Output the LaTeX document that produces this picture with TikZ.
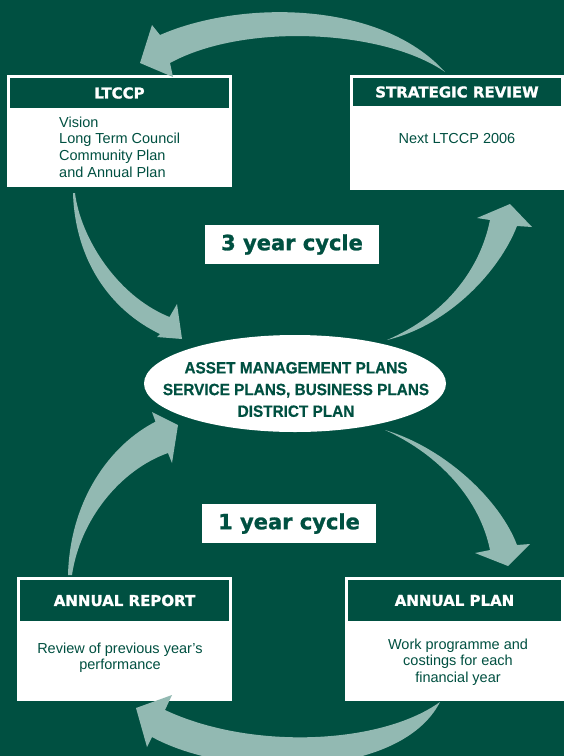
\documentclass[tikz,border=0pt]{standalone}
\usepackage{fontspec}
\setmainfont{Liberation Sans}
\newfontfamily\headfont[BoldFeatures={FakeBold=1.2}]{DejaVu Sans}
\newfontfamily\narrowfont[FakeStretch=0.94,BoldFeatures={FakeBold=0.6}]{Liberation Sans}
\usetikzlibrary{shapes.geometric,positioning}
\definecolor{councilgreen}{RGB}{0,80,65}
\definecolor{arrowgrey}{RGB}{146,185,178}

\begin{document}
\begin{tikzpicture}[x=1pt,y=-1pt]
\tikzstyle{panel}=[rectangle, fill=white, inner sep=0pt]
\tikzstyle{headbar}=[rectangle, fill=councilgreen, text=white, inner sep=0pt,
	font=\headfont\bfseries\fontsize{15}{18}\selectfont]
\tikzstyle{bodytext}=[text=councilgreen, inner sep=0pt,
	font=\fontsize{14.5}{16.6}\selectfont]
\tikzstyle{cyclelabel}=[rectangle, fill=white, text=councilgreen, inner sep=0pt,
	minimum width=174pt, minimum height=39pt,
	font=\headfont\bfseries\fontsize{21}{24}\selectfont]
\tikzstyle{cyclearrow}=[fill=arrowgrey]

\useasboundingbox (0,0) rectangle (564,756);
\clip (0,0) rectangle (564,756);
\fill[councilgreen] (0,0) rectangle (564,756);

\node[panel, minimum width=225pt, minimum height=112pt] (ltccp) at (119.5,131) {};
\node[headbar, minimum width=219pt, minimum height=30pt, below=3pt of ltccp.north] (ltccp-head) {LTCCP};
\node[bodytext, align=left, anchor=north west] (ltccp-body) at (59,116.5)
	{Vision\\Long Term Council\\Community Plan\\and Annual Plan};

\node[panel, minimum width=214pt, minimum height=115pt] (review) at (457,132.5) {};
\node[headbar, minimum width=208pt, minimum height=28pt, below=3pt of review.north] (review-head) {STRATEGIC REVIEW};
\node[bodytext, anchor=base] (review-body) at (457,143) {Next LTCCP 2006};

\node[panel, minimum width=215pt, minimum height=124pt] (report) at (124.5,639) {};
\node[headbar, minimum width=209pt, minimum height=41pt, below=3pt of report.north] (report-head) {ANNUAL REPORT};
\node[bodytext, align=center, anchor=north] (report-body) at (120,642.5)
	{Review of previous year’s\\performance};

\node[panel, minimum width=219pt, minimum height=124pt] (plan) at (454.5,639) {};
\node[headbar, minimum width=213pt, minimum height=41pt, below=3pt of plan.north] (plan-head) {ANNUAL PLAN};
\node[bodytext, align=center, anchor=north] (plan-body) at (458,638.5)
	{Work programme and\\costings for each\\financial year};

\node[ellipse, fill=white, minimum width=302pt, minimum height=97pt, inner sep=0pt] (plans) at (295,383.5) {};
\node[text=councilgreen, align=center, font=\narrowfont\bfseries\fontsize{16.3}{21.7}\selectfont]
	(plans-text) at (296,389.5)
	{ASSET MANAGEMENT PLANS\\SERVICE PLANS, BUSINESS PLANS\\DISTRICT PLAN};

\node[cyclelabel] (three-year) at (292,244.5) {3 year cycle};
\node[cyclelabel] (one-year) at (289,523.5) {1 year cycle};

\coordinate (review-out) at (445,72);
\coordinate (ltccp-out) at (74,193);
\coordinate (plans-up) at (387,340);
\coordinate (plans-down) at (385,430);
\coordinate (plan-out) at (440,702);
\coordinate (report-out) at (70,575);

\fill[cyclearrow] (review-out) .. controls (385,30) and (245,22) .. (170,63)
	-- (173,77) -- (140,63) -- (152,25) -- (160,35)
	.. controls (240,0) and (380,0) .. (review-out) -- cycle;
\fill[cyclearrow] ([xshift=-1pt]ltccp-out) .. controls (75,260) and (110,310) .. (160,334)
	-- (157,337) -- (182,339) -- (177,304) -- (169.5,317)
	.. controls (115,295) and (80,235) .. ([xshift=1pt]ltccp-out) -- cycle;
\fill[cyclearrow] (plans-up) .. controls (445,315) and (480,270) .. (490,220)
	-- (477,218) -- (510,204) -- (532,227) -- (517,226)
	.. controls (500,270) and (450,325) .. (plans-up) -- cycle;
\fill[cyclearrow] (plans-down) .. controls (445,448) and (500,500) .. (517,545)
	-- (530,544) -- (508,566) -- (475,553) -- (490,550)
	.. controls (480,500) and (440,455) .. (plans-down) -- cycle;
\fill[cyclearrow] (plan-out) .. controls (400,780) and (230,780) .. (152,737)
	-- (147,747) -- (136,708) -- (172,695) -- (165,710)
	.. controls (250,750) and (380,745) .. (plan-out) -- cycle;
\fill[cyclearrow] ([xshift=-2pt]report-out) .. controls (70,500) and (110,445) .. (155.5,421.7)
	-- (152,412) -- (178,425) -- (172,463) -- (168,453)
	.. controls (120,470) and (80,520) .. ([xshift=2pt]report-out) -- cycle;
\end{tikzpicture}
\end{document}
